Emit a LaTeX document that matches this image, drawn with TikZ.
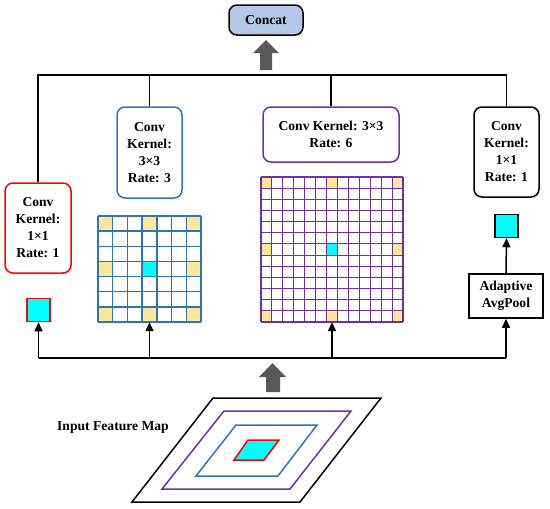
\documentclass[tikz,border=0pt]{standalone}
\usepackage{fontspec}
\setmainfont{Liberation Serif}
\usetikzlibrary{arrows.meta}
\definecolor{cblue}{HTML}{2E75B6}
\definecolor{cpurple}{HTML}{7030A0}
\definecolor{cyellow}{HTML}{FFE699}
\definecolor{ccyan}{HTML}{00FFFF}
\definecolor{cconcat}{HTML}{B4C7E7}
\definecolor{cgray}{HTML}{595959}
\tikzset{
  lbl/.style={font=\fontsize{13.6}{17}\selectfont\bfseries, align=center, inner sep=0pt},
  convbox/.style={lbl, draw, line width=1.5pt, rounded corners=8pt, fill=white},
  conn/.style={line width=1.5pt, black},
  arr/.style={conn, -{Triangle[length=9pt,width=8pt]}},
  bigarr/.style={fill=cgray, draw=none},
  sq/.style={draw, line width=1.5pt, fill=ccyan, minimum size=23pt, inner sep=0pt},
}
\begin{document}
\begin{tikzpicture}[x=1pt,y=-1pt]
\useasboundingbox (0,0) rectangle (550,509);

% Concat
\node[convbox, fill=cconcat, minimum width=74pt, minimum height=30pt] (concat) at (266,20) {Concat};
% big gray arrow up to concat
\fill[bigarr] (266,40) -- (279,53) -- (272,53) -- (272,70) -- (260,70) -- (260,53) -- (253,53) -- cycle;

% conv boxes
\node[convbox, draw=red, minimum width=66pt, minimum height=90pt] (redbox) at (38,228) {Conv\\Kernel:\\1×1\\Rate: 1};
\node[convbox, draw=cblue, minimum width=65pt, minimum height=91pt] (bluebox) at (149.5,152.5) {Conv\\Kernel:\\3×3\\Rate: 3};
\node[convbox, draw=cpurple, minimum width=136pt, minimum height=55pt] (purplebox) at (331,134.5) {Conv Kernel: 3×3\\Rate: 6};
\node[convbox, draw=black, minimum width=65pt, minimum height=90pt] (blackbox) at (506.5,152) {Conv\\Kernel:\\1×1\\Rate: 1};

% top line
\coordinate (top) at (0,75);
\draw[conn] (redbox.north) |- (blackbox.north |- top) -- (blackbox.north);
\draw[conn] (bluebox.north) -- (bluebox.north |- top);
\draw[conn] (purplebox.north) -- (purplebox.north |- top);

% red small square
\node[sq, draw=red] (redsq) at (38.5,310) {};

% blue grid 7x7
\def\bcx{14.714}
\def\bcy{15.143}
\node[minimum width=103pt, minimum height=106pt, inner sep=0pt] (bgrid) at (149.5,269) {};
\foreach \i/\j in {0/0,3/0,6/0,0/3,6/3,0/6,3/6,6/6}
  \fill[cyellow] (98+\i*\bcx,216+\j*\bcy) rectangle ++(\bcx,\bcy);
\fill[ccyan] (98+3*\bcx,216+3*\bcy) rectangle ++(\bcx,\bcy);
\foreach \k in {0,...,7}{
  \draw[cblue, line width=1.3pt] (98+\k*\bcx,216) -- (98+\k*\bcx,322);
  \draw[cblue, line width=1.3pt] (98,216+\k*\bcy) -- (201,216+\k*\bcy);
}

% purple grid 13x13
\def\pcx{10.923}
\def\pcy{11.154}
\node[minimum width=142pt, minimum height=145pt, inner sep=0pt] (pgrid) at (332,249.5) {};
\foreach \i/\j in {0/0,6/0,12/0,0/6,12/6,0/12,6/12,12/12}
  \fill[cyellow] (261+\i*\pcx,177+\j*\pcy) rectangle ++(\pcx,\pcy);
\fill[ccyan] (261+6*\pcx,177+6*\pcy) rectangle ++(\pcx,\pcy);
\foreach \k in {0,...,13}{
  \draw[cpurple, line width=1.1pt] (261+\k*\pcx,177) -- (261+\k*\pcx,322);
  \draw[cpurple, line width=1.1pt] (261,177+\k*\pcy) -- (403,177+\k*\pcy);
}

% right branch
\node[sq, draw=black] (cyansq) at (506.5,226) {};
\node[lbl, draw, line width=1.5pt, minimum width=74pt, minimum height=44pt] (avg) at (506,296) {Adaptive\\AvgPool};
\draw[arr] (avg.north) -- (cyansq.south);

% bottom line and arrows
\coordinate (bot) at (0,358);
\draw[conn] (redsq.south |- bot) -- (avg.south |- bot);
\draw[arr] (redsq.south |- bot) -- (redsq.south);
\draw[arr] (bgrid.south |- bot) -- (bgrid.south);
\draw[arr] (pgrid.south |- bot) -- (pgrid.south);
\draw[arr] (avg.south |- bot) -- (avg.south);

% big gray arrow from input
\fill[bigarr] (272.5,363) -- (286,377) -- (280,377) -- (280,392) -- (266,392) -- (266,377) -- (259,377) -- cycle;

% input feature map
\draw[line width=1.5pt] (213,398) -- (381,398) -- (300,502) -- (132,502) -- cycle;
\draw[cpurple, line width=1.5pt] (224,411) -- (351,411) -- (290,489) -- (162,489) -- cycle;
\draw[cblue, line width=1.5pt] (236,425) -- (317,425) -- (278,476) -- (196,476) -- cycle;
\draw[red, fill=ccyan, line width=1.5pt] (248,440) -- (279,440) -- (264,460) -- (234,460) -- cycle;
\node[lbl, anchor=west] (inlbl) at (57,427) {Input Feature Map};
\end{tikzpicture}
\end{document}
